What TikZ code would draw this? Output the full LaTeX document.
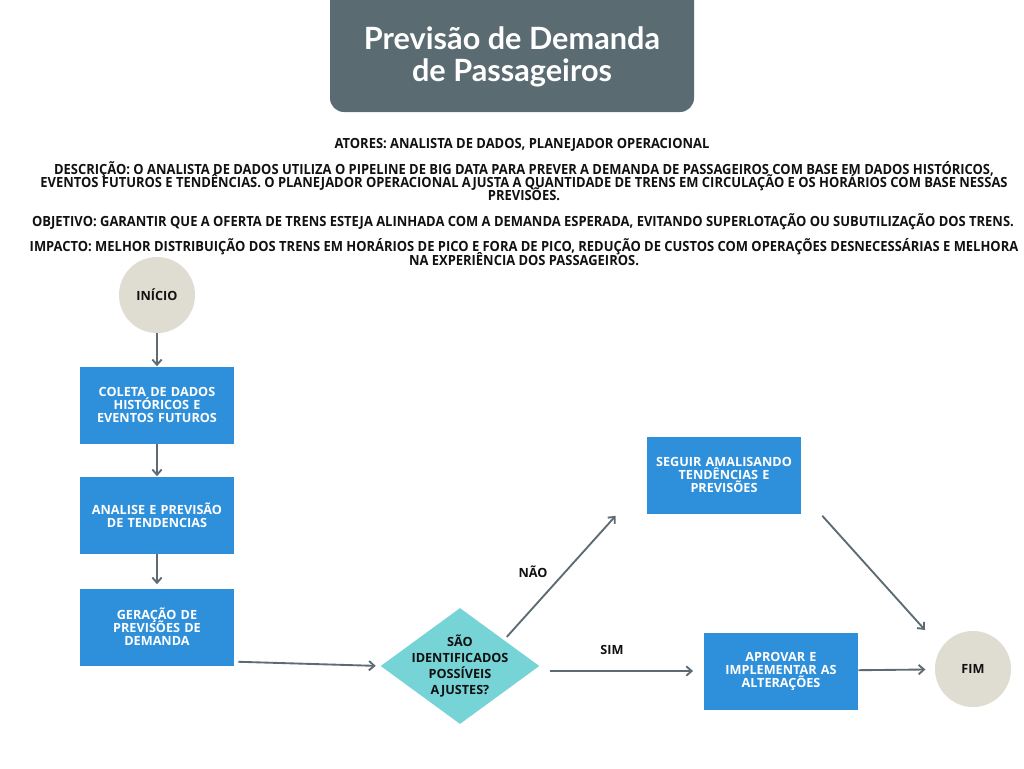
\documentclass[tikz,border=0pt]{standalone}
\usepackage{fontspec}
\setmainfont{Open Sans}
\newfontfamily\titlefont{Lato}
\newfontfamily\narrowfont[FakeStretch=0.925]{Open Sans}
\usepackage{xcolor}
\definecolor{SlateTitle}{HTML}{5B6B72}
\definecolor{FlowBlue}{HTML}{2E8FDB}
\definecolor{DecisionTurq}{HTML}{76D3D6}
\definecolor{SandGray}{HTML}{DFDCD1}
\definecolor{ArrowSlate}{HTML}{5D6C74}
\definecolor{InkBlack}{HTML}{111111}
\usepackage{tikz}
\usetikzlibrary{shapes.geometric, arrows.meta, positioning, calc}
\newcommand{\tightlines}{\lineskiplimit=-20pt\relax}
\tikzset{
  % Box styles
  stepbox/.style={rectangle, fill=FlowBlue, text=white, minimum width=115.5pt, minimum height=57.75pt, text width=112pt, inner sep=0pt, align=center, font=\fontsize{9.5}{9.75}\selectfont\tightlines\bfseries},
  endpoint/.style={circle, fill=SandGray, minimum size=57pt, inner sep=0pt, text=InkBlack, font=\fontsize{9.5}{9.75}\selectfont\bfseries},
  decision/.style={diamond, fill=DecisionTurq, minimum width=119pt, minimum height=87pt, inner sep=0pt},
  dectext/.style={align=center, text=InkBlack, font=\fontsize{9.5}{12}\selectfont\tightlines\bfseries},
  % Text styles
  infotext/.style={align=center, text=InkBlack, inner sep=0pt, font=\narrowfont\fontsize{10.5}{10}\selectfont\tightlines\bfseries},
  edgelabel/.style={text=InkBlack, font=\fontsize{9.5}{9.75}\selectfont\bfseries},
  % Arrow styles
  flow/.style={-{Straight Barb[length=4pt, width=7pt]}, line width=1.4pt, ArrowSlate}
}
\begin{document}
\begin{tikzpicture}[x=0.75pt, y=-0.75pt]
  \useasboundingbox (0,0) rectangle (1024,768);
  \fill[white] (0,0) rectangle (1024,768);

  % Title
  \fill[SlateTitle, rounded corners=10.5pt] (330,-20) rectangle (694,112);
  \node[text=white, align=center, font=\titlefont\fontsize{23}{24}\selectfont\tightlines\bfseries] (title) at (512,57) {Previsão de Demanda\\de Passageiros};

  % Header
  \node[infotext] (atores) at (522,145) {ATORES: ANALISTA DE DADOS, PLANEJADOR OPERACIONAL};
  \node[infotext] (descricao) at (524,181) {DESCRIÇÃO: O ANALISTA DE DADOS UTILIZA O PIPELINE DE BIG DATA PARA PREVER A DEMANDA DE PASSAGEIROS COM BASE EM DADOS HISTÓRICOS,\\EVENTOS FUTUROS E TENDÊNCIAS. O PLANEJADOR OPERACIONAL AJUSTA A QUANTIDADE DE TRENS EM CIRCULAÇÃO E OS HORÁRIOS COM BASE NESSAS\\PREVISÕES.};
  \node[infotext] (objetivo) at (523,222) {OBJETIVO: GARANTIR QUE A OFERTA DE TRENS ESTEJA ALINHADA COM A DEMANDA ESPERADA, EVITANDO SUPERLOTAÇÃO OU SUBUTILIZAÇÃO DOS TRENS.};
  \node[infotext] (impacto) at (524,252) {IMPACTO: MELHOR DISTRIBUIÇÃO DOS TRENS EM HORÁRIOS DE PICO E FORA DE PICO, REDUÇÃO DE CUSTOS COM OPERAÇÕES DESNECESSÁRIAS E MELHORA\\NA EXPERIÊNCIA DOS PASSAGEIROS.};

  % Flow
  \node[endpoint] (inicio) at (157,295) {INÍCIO};
  \node[stepbox] (coleta) at (157,405) {COLETA DE DADOS\\HISTÓRICOS E\\EVENTOS FUTUROS};
  \node[stepbox] (analise) at (157,515) {ANALISE E PREVISÃO\\DE TENDENCIAS\\[2pt]};
  \node[stepbox] (geracao) at (157,627) {GERAÇÃO DE\\PREVISÕES DE\\DEMANDA\\[2pt]};
  \node[decision, label={[dectext]center:SÃO\\IDENTIFICADOS\\POSSÍVEIS\\AJUSTES?}] (dec) at (460,666) {};
  \node[stepbox] (seguir) at (724,475) {SEGUIR AMALISANDO\\TENDÊNCIAS E\\PREVISÕES\\[6pt]};
  \node[stepbox] (aprovar) at (781,671) {APROVAR E\\IMPLEMENTAR AS\\ALTERAÇÕES};
  \node[endpoint] (fim) at (973,669) {FIM};

  % Labels
  \node[edgelabel] (lblnao) at (533,572) {NÃO};
  \node[edgelabel] (lblsim) at (612,650) {SIM};

  % Arrows
  \draw[flow] (inicio) -- (coleta);
  \draw[flow] (coleta) -- (analise);
  \draw[flow, shorten >=3pt] (analise) -- (geracao);
  \draw[flow, shorten >=3.5pt] ([shift={(4,-4)}]geracao.south east) -- (dec.west);
  \draw[flow] ([shift={(7,0)}]dec.north east) -- ([shift={(-31,2)}]seguir.south west);
  \draw[flow, shorten <=7.5pt, shorten >=8pt] (dec.east |- aprovar.west) -- (aprovar.west);
  \draw[flow, shorten >=7pt] (aprovar) -- (fim);
  \draw[flow] ([shift={(21,2)}]seguir.south east) -- ([shift={(-48,-39)}]fim.center);
\end{tikzpicture}
\end{document}
